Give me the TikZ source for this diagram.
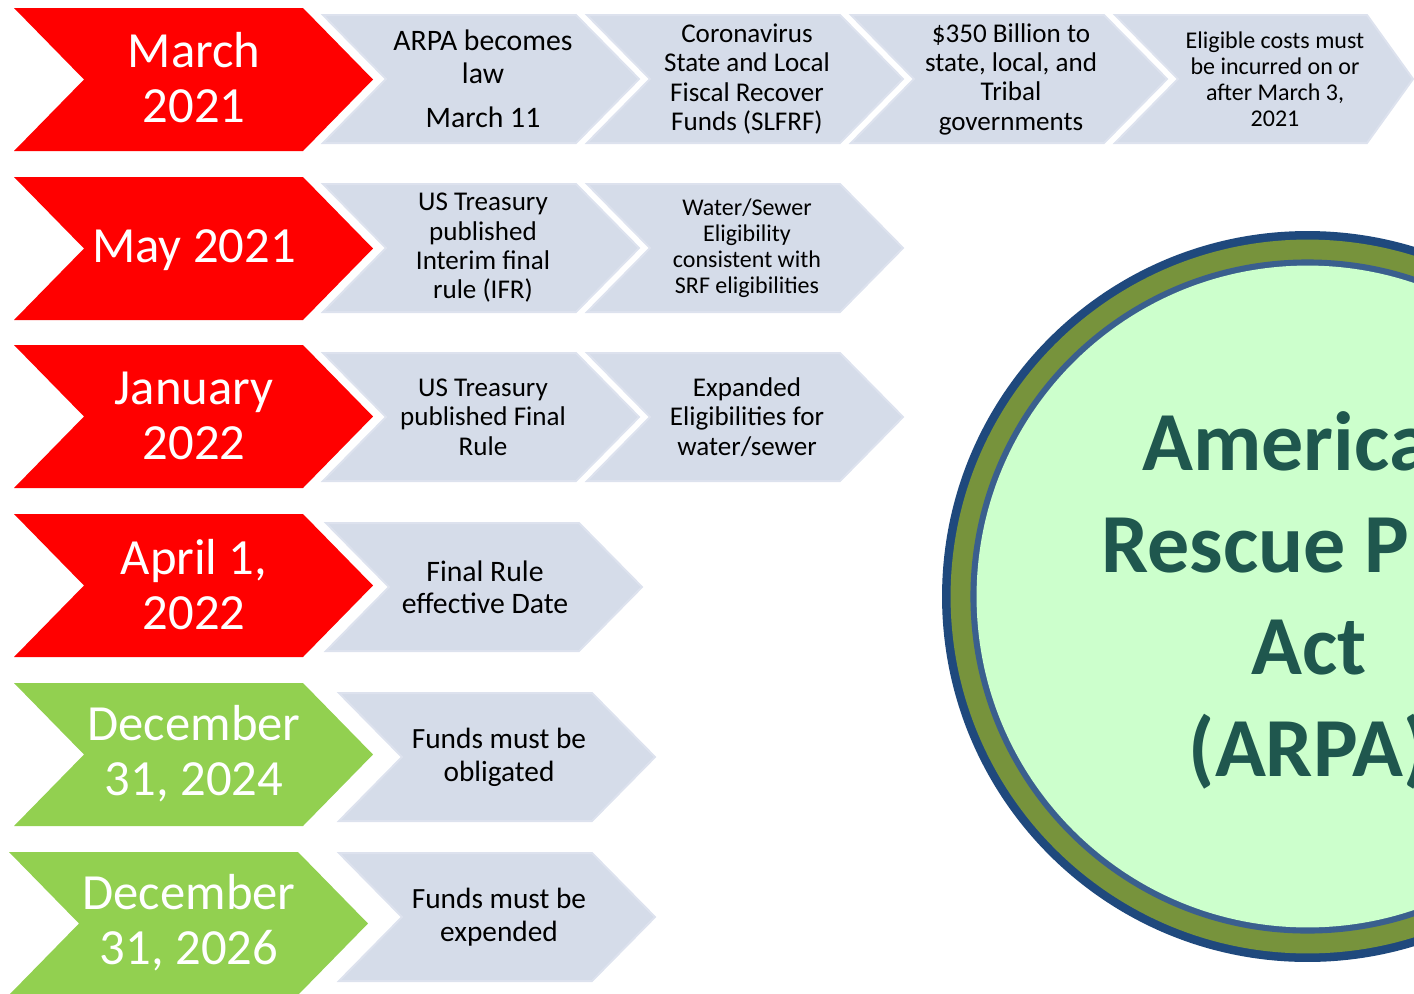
\documentclass[tikz,border=0pt]{standalone}
\usepackage{fontspec}
\setmainfont{Carlito}

\definecolor{clrRed}{RGB}{255,0,0}
\definecolor{clrGreen}{RGB}{146,208,80}
\definecolor{clrStep}{RGB}{213,220,233}
\definecolor{clrStepEdge}{RGB}{221,226,238}
\definecolor{clrOuter}{RGB}{31,73,125}
\definecolor{clrRing}{RGB}{119,147,60}
\definecolor{clrInner}{RGB}{58,95,142}
\definecolor{clrDisc}{RGB}{204,255,204}
\definecolor{clrTitle}{RGB}{31,87,78}

\tikzset{every picture/.style={line width=0.75pt}}
\tikzset{
  redarrow/.style={fill=clrRed, draw=none},
  greenarrow/.style={fill=clrGreen, draw=none},
  grayarrow/.style={fill=clrStep, draw=clrStepEdge, line width=1.5pt, line join=miter},
  datetext/.style={align=center, inner sep=0.75pt, text=white, font=\fontsize{38}{41.25}\selectfont},
  steptext/.style={align=center, inner sep=0.75pt, text=black},
  circtext/.style={align=center, inner sep=0.75pt, text=clrTitle, font=\fontsize{63}{76.5}\selectfont\bfseries}
}

\begin{document}
\begin{tikzpicture}[x=0.75pt,y=0.75pt,yscale=-1,xscale=1]
\useasboundingbox (0,0) rectangle (1414,993);
\clip (0,0) rectangle (1414,993);

%Shape: Circle [id:arpa disc]
\fill [color=clrOuter] (1307.5,596.5) circle (274.1pt) ;
\fill [color=clrRing] (1307.5,596.5) circle (267.7pt) ;
\fill [color=clrInner] (1307.5,596.5) circle (252.8pt) ;
\fill [color=clrDisc] (1307.5,596.5) circle (248.2pt) ;

%Shape: Chevron [id:row1 date]
\draw [redarrow] (14,8) -- (303,8) -- (373,79.5) -- (303,151) -- (14,151) -- (84,79.5) -- cycle ;
%Shape: Chevron [id:row2 date]
\draw [redarrow] (14,177) -- (303,177) -- (373,248.5) -- (303,320) -- (14,320) -- (84,248.5) -- cycle ;
%Shape: Chevron [id:row3 date]
\draw [redarrow] (14,345) -- (303,345) -- (373,416.5) -- (303,488) -- (14,488) -- (84,416.5) -- cycle ;
%Shape: Chevron [id:row4 date]
\draw [redarrow] (14,514) -- (303,514) -- (373,585.5) -- (303,657) -- (14,657) -- (84,585.5) -- cycle ;
%Shape: Chevron [id:row5 date]
\draw [greenarrow] (14,683) -- (303,683) -- (373,754.5) -- (303,826) -- (14,826) -- (84,754.5) -- cycle ;
%Shape: Chevron [id:row6 date]
\draw [greenarrow] (9,852) -- (298,852) -- (368,923.5) -- (298,995) -- (9,995) -- (79,923.5) -- cycle ;

%Shape: Chevron [id:row1 steps]
\draw [grayarrow] (323,15) -- (576,15) -- (639,79) -- (576,143) -- (323,143) -- (386,79) -- cycle ;
\draw [grayarrow] (587,15) -- (840,15) -- (903,79) -- (840,143) -- (587,143) -- (650,79) -- cycle ;
\draw [grayarrow] (851,15) -- (1104,15) -- (1167,79) -- (1104,143) -- (851,143) -- (914,79) -- cycle ;
\draw [grayarrow] (1115,15) -- (1367,15) -- (1413,79) -- (1367,143) -- (1115,143) -- (1178,79) -- cycle ;
%Shape: Chevron [id:row2 steps]
\draw [grayarrow] (323,184) -- (576,184) -- (639,248) -- (576,312) -- (323,312) -- (386,248) -- cycle ;
\draw [grayarrow] (587,184) -- (840,184) -- (903,248) -- (840,312) -- (587,312) -- (650,248) -- cycle ;
%Shape: Chevron [id:row3 steps]
\draw [grayarrow] (323,353) -- (576,353) -- (639,417) -- (576,481) -- (323,481) -- (386,417) -- cycle ;
\draw [grayarrow] (587,353) -- (840,353) -- (903,417) -- (840,481) -- (587,481) -- (650,417) -- cycle ;
%Shape: Chevron [id:row4 steps]
\draw [grayarrow] (326,523) -- (579,523) -- (642,587) -- (579,651) -- (326,651) -- (389,587) -- cycle ;
%Shape: Chevron [id:row5 steps]
\draw [grayarrow] (339,693) -- (592,693) -- (655,757) -- (592,821) -- (339,821) -- (402,757) -- cycle ;
%Shape: Chevron [id:row6 steps]
\draw [grayarrow] (339,853) -- (592,853) -- (655,917) -- (592,981) -- (339,981) -- (402,917) -- cycle ;

% Text Node
\draw (194,78) node [datetext] (mar21) {March\\2021};
% Text Node
\draw (194,250) node [datetext] (may21) {May 2021};
% Text Node
\draw (194,416) node [datetext] (jan22) {January\\2022};
% Text Node
\draw (194,585) node [datetext] (apr22) {April 1,\\2022};
% Text Node
\draw (194,754) node [datetext] (dec24) {December\\31, 2024};
% Text Node
\draw (189,923) node [datetext] (dec26) {December\\31, 2026};

% Text Node
\draw (483,79) node [steptext, font=\fontsize{22.3}{24.75}\selectfont] (becomeslaw) {ARPA becomes\\law\\[8pt]March 11};
% Text Node
\draw (747,79) node [steptext, font=\fontsize{20.3}{22}\selectfont] (slfrf) {Coronavirus\\State and Local\\Fiscal Recover\\Funds (SLFRF)};
% Text Node
\draw (1011,79) node [steptext, font=\fontsize{20.3}{22}\selectfont] (billion) {\$350 Billion to\\state, local, and\\Tribal\\governments};
% Text Node
\draw (1275,79) node [steptext, font=\fontsize{18}{19.5}\selectfont] (costs) {Eligible costs must\\be incurred on or\\after March 3,\\2021};
% Text Node
\draw (483,248) node [steptext, font=\fontsize{20.3}{22}\selectfont] (ifr) {US Treasury\\published\\Interim final\\rule (IFR)};
% Text Node
\draw (747,248) node [steptext, font=\fontsize{18}{19.5}\selectfont] (srf) {Water/Sewer\\Eligibility\\consistent with\\SRF eligibilities};
% Text Node
\draw (483,417) node [steptext, font=\fontsize{20.3}{22}\selectfont] (finalrule) {US Treasury\\published Final\\Rule};
% Text Node
\draw (747,417) node [steptext, font=\fontsize{20.3}{22}\selectfont] (expanded) {Expanded\\Eligibilities for\\water/sewer};
% Text Node
\draw (485,587) node [steptext, font=\fontsize{22.3}{24}\selectfont] (effective) {Final Rule\\effective Date};
% Text Node
\draw (499,757) node [steptext, font=\fontsize{22}{24.5}\selectfont] (obligated) {Funds must be\\obligated};
% Text Node
\draw (499,917) node [steptext, font=\fontsize{22}{24.5}\selectfont] (expended) {Funds must be\\expended};

% Text Node
\draw (1309,600) node [circtext] (arpa) {American\\Rescue Plan\\Act\\(ARPA)};

\end{tikzpicture}
\end{document}
